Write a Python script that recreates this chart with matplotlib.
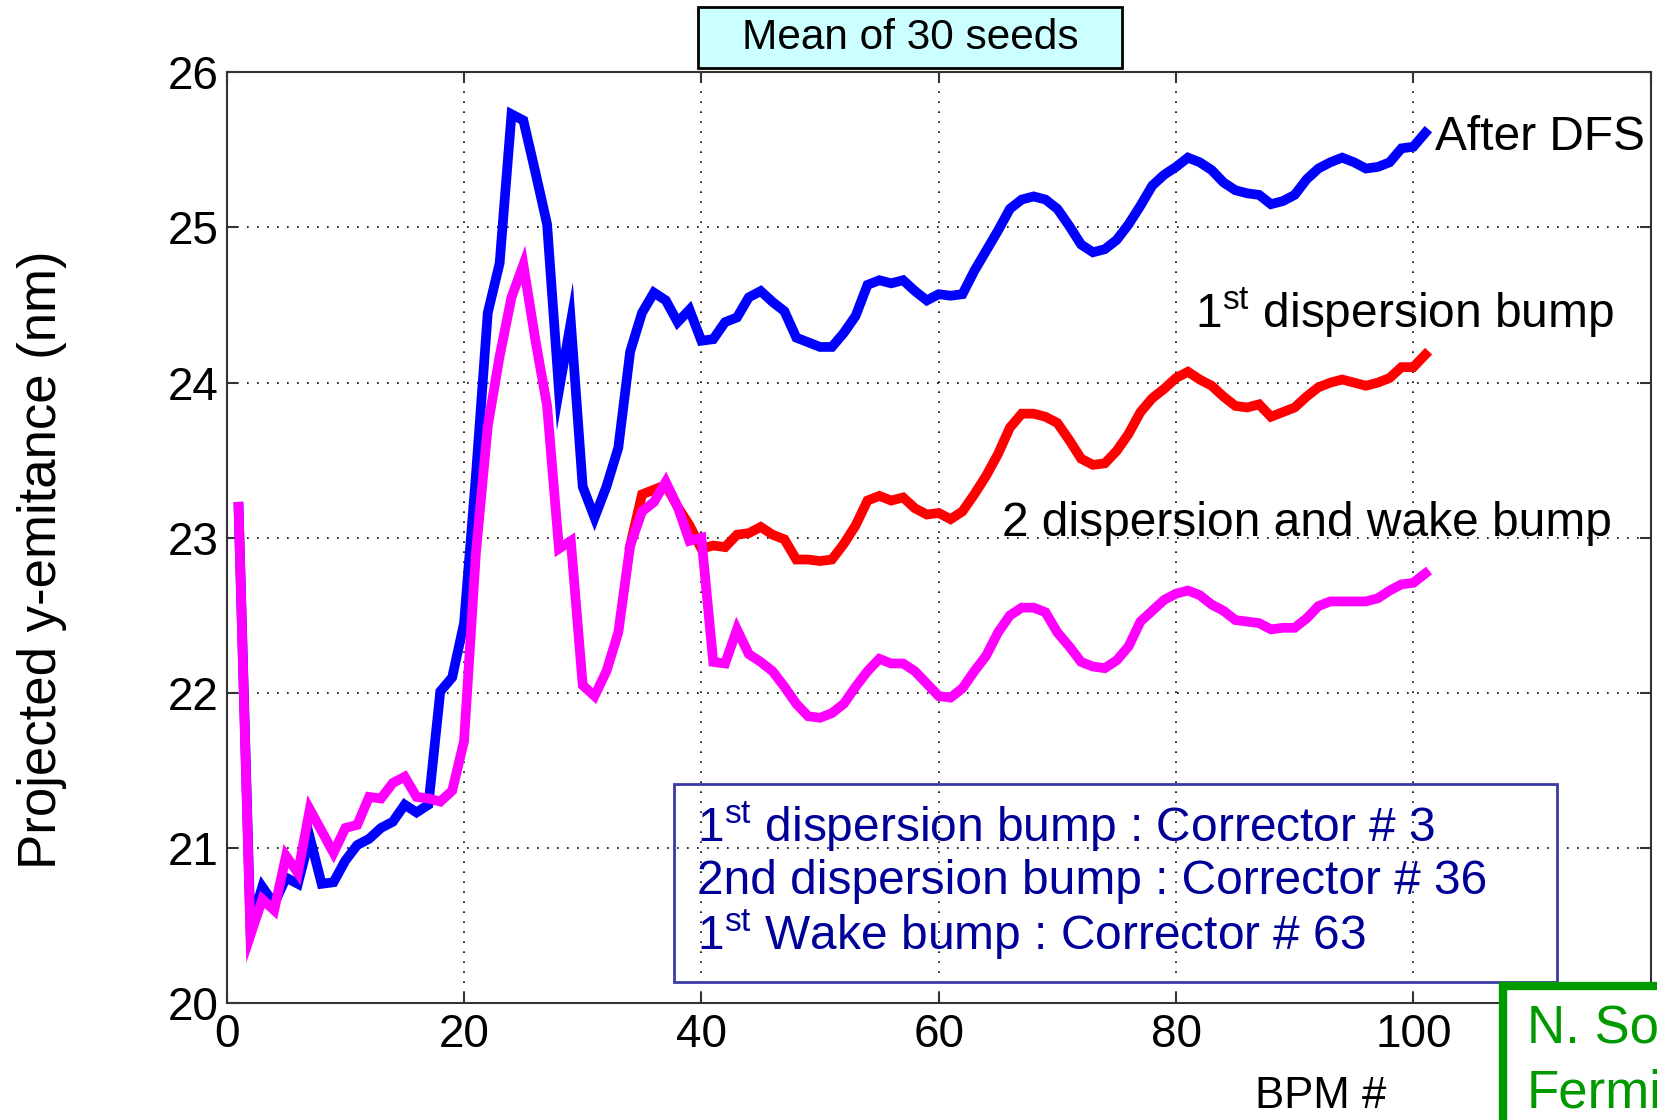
import matplotlib
matplotlib.use("Agg")
import matplotlib.pyplot as plt
from matplotlib.patches import Rectangle

plt.rcParams['font.family'] = ['Liberation Sans', 'DejaVu Sans']
plt.rcParams['mathtext.fontset'] = 'custom'
plt.rcParams['mathtext.rm'] = 'Liberation Sans'

# BPM index
bpm = list(range(1, 102))

# After DFS (blue)
after_dfs = [23.2, 20.5, 20.75, 20.64, 20.81, 20.77, 21.07, 20.77, 20.78, 20.92,
             21.02, 21.06, 21.13, 21.17, 21.28, 21.23, 21.28, 22.01, 22.10, 22.45,
             23.4, 24.45, 24.77, 25.73, 25.69, 25.36, 25.02, 23.95, 24.39, 23.33,
             23.13, 23.33, 23.58, 24.20, 24.45, 24.58, 24.53, 24.39, 24.47, 24.27,
             24.28, 24.39, 24.42, 24.55, 24.59, 24.52, 24.46, 24.29, 24.26, 24.23,
             24.23, 24.32, 24.43, 24.63, 24.66, 24.64, 24.66, 24.59, 24.53, 24.57,
             24.56, 24.57, 24.72, 24.85, 24.98, 25.12, 25.18, 25.20, 25.18, 25.12,
             25.01, 24.89, 24.84, 24.86, 24.92, 25.02, 25.14, 25.27, 25.34, 25.39,
             25.45, 25.42, 25.37, 25.29, 25.24, 25.22, 25.21, 25.15, 25.17, 25.21,
             25.31, 25.38, 25.42, 25.45, 25.42, 25.38, 25.39, 25.42, 25.51, 25.52,
             25.61]

# 1st dispersion bump (red), visible from BPM 34 on
bump1_bpm = list(range(34, 102))
bump1 = [22.95, 23.28, 23.31, 23.34, 23.20, 23.08, 22.93, 22.95, 22.94, 23.02,
         23.03, 23.07, 23.02, 22.99, 22.86, 22.86, 22.85, 22.86, 22.96, 23.08,
         23.24, 23.27, 23.24, 23.26, 23.19, 23.15, 23.16, 23.12, 23.17, 23.28,
         23.40, 23.54, 23.71, 23.80, 23.80, 23.78, 23.74, 23.63, 23.51, 23.47,
         23.48, 23.56, 23.67, 23.81, 23.90, 23.96, 24.03, 24.07, 24.02, 23.98,
         23.91, 23.85, 23.84, 23.86, 23.78, 23.81, 23.84, 23.91, 23.97, 24.00,
         24.02, 24.00, 23.98, 24.00, 24.03, 24.10, 24.10, 24.18]

# 2 dispersion and wake bump (magenta)
bump2_wake = [23.2, 20.44, 20.67, 20.60, 20.95, 20.84, 21.25, 21.11, 20.97, 21.13,
              21.15, 21.33, 21.32, 21.42, 21.46, 21.33, 21.32, 21.30, 21.37, 21.69,
              22.9, 23.72, 24.17, 24.55, 24.76, 24.28, 23.85, 22.93, 22.98, 22.05,
              21.98, 22.14, 22.39, 22.95, 23.17, 23.23, 23.36, 23.20, 22.98, 23.00,
              22.20, 22.19, 22.41, 22.25, 22.20, 22.14, 22.04, 21.93, 21.85, 21.84,
              21.87, 21.93, 22.04, 22.14, 22.22, 22.19, 22.19, 22.14, 22.06, 21.98,
              21.97, 22.03, 22.14, 22.24, 22.39, 22.50, 22.55, 22.55, 22.52, 22.39,
              22.30, 22.20, 22.17, 22.16, 22.21, 22.30, 22.46, 22.53, 22.60, 22.64,
              22.66, 22.63, 22.57, 22.53, 22.47, 22.46, 22.45, 22.41, 22.42, 22.42,
              22.48, 22.56, 22.59, 22.59, 22.59, 22.59, 22.61, 22.66, 22.70, 22.71,
              22.77]

x_ticks = [0, 20, 40, 60, 80, 100, 120]
x_tick_labels = ['0', '20', '40', '60', '80', '100', '']
y_ticks = [20, 21, 22, 23, 24, 25, 26]

W, H = 1657, 1120
fig = plt.figure(figsize=(W / 100, H / 100), dpi=100)
ax = fig.add_axes([226.7 / W, 1 - 1003.3 / H, (1650.7 - 226.7) / W, (1003.3 - 72.3) / H])

ax.plot(bpm, after_dfs, color='#0000ff', lw=7, solid_joinstyle='miter')
ax.plot(bump1_bpm, bump1, color='#ff0000', lw=7, solid_joinstyle='miter')
ax.plot(bpm, bump2_wake, color='#ff00ff', lw=7, solid_joinstyle='miter')

ax.set_xlim(0, 120)
ax.set_ylim(20, 26)
ax.set_xticks(x_ticks)
ax.set_xticklabels(x_tick_labels)
ax.set_yticks(y_ticks)
ax.grid(True, linestyle=(0, (1, 5)), color='black', lw=1.2)
ax.tick_params(direction='in', length=8, width=1.5, labelsize=33,
               top=True, right=True, colors='#333333', labelcolor='black')
ax.tick_params(axis='x', pad=7)
ax.tick_params(axis='y', pad=6)
for s in ax.spines.values():
    s.set_linewidth(1.5)
    s.set_color('#333333')

# curve labels
ax.text(101.8, 25.58, 'After DFS', fontsize=34.5, va='center', ha='left')
ax.text(81.6, 24.45, r'1$^{\mathrm{st}}$ dispersion bump', fontsize=34.5, va='center', ha='left')
ax.text(65.3, 23.09, '2 dispersion and wake bump', fontsize=34.5, va='center', ha='left')

# corrector info box
fig.add_artist(Rectangle((674 / W, 1 - 982 / H), (1557 - 674) / W, (982 - 784) / H,
                         transform=fig.transFigure, fill=False, edgecolor='#3a3aa8', lw=2))
info = [r'1$^{\mathrm{st}}$ dispersion bump : Corrector # 3',
        '2nd dispersion bump : Corrector # 36',
        r'1$^{\mathrm{st}}$ Wake bump : Corrector # 63']
for i, line in enumerate(info):
    fig.text(697 / W, 1 - (827 + 54 * i) / H, line, fontsize=34.5, color='#000099',
             va='center', ha='left')

# title box
fig.add_artist(Rectangle((698 / W, 1 - 68 / H), (1122 - 698) / W, (68 - 7) / H,
                         transform=fig.transFigure, facecolor='#ccffff', edgecolor='black', lw=2))
fig.text(910 / W, 1 - 38 / H, 'Mean of 30 seeds', fontsize=30.5, ha='center', va='center')

# axis labels
fig.text(42 / W, 0.5, 'Projected y-emitance (nm)', fontsize=38, rotation=90,
         ha='center', va='center')
fig.text(1321 / W, 1 - 1096 / H, 'BPM #', fontsize=31.5, ha='center', va='center')

# author box (cut off at the edge)
fig.add_artist(Rectangle((1503 / W, -0.05), 0.2, 1.05 - 986 / H,
                         transform=fig.transFigure, facecolor='white', edgecolor='#009900',
                         lw=6, zorder=5))
fig.text(1527 / W, 1 - 1029 / H, 'N. Solyak', fontsize=38, color='#009900',
         ha='left', va='center', zorder=6)
fig.text(1527 / W, 1 - 1094 / H, 'Fermilab', fontsize=38, color='#009900',
         ha='left', va='center', zorder=6)

fig.savefig('out.png', dpi=100)
